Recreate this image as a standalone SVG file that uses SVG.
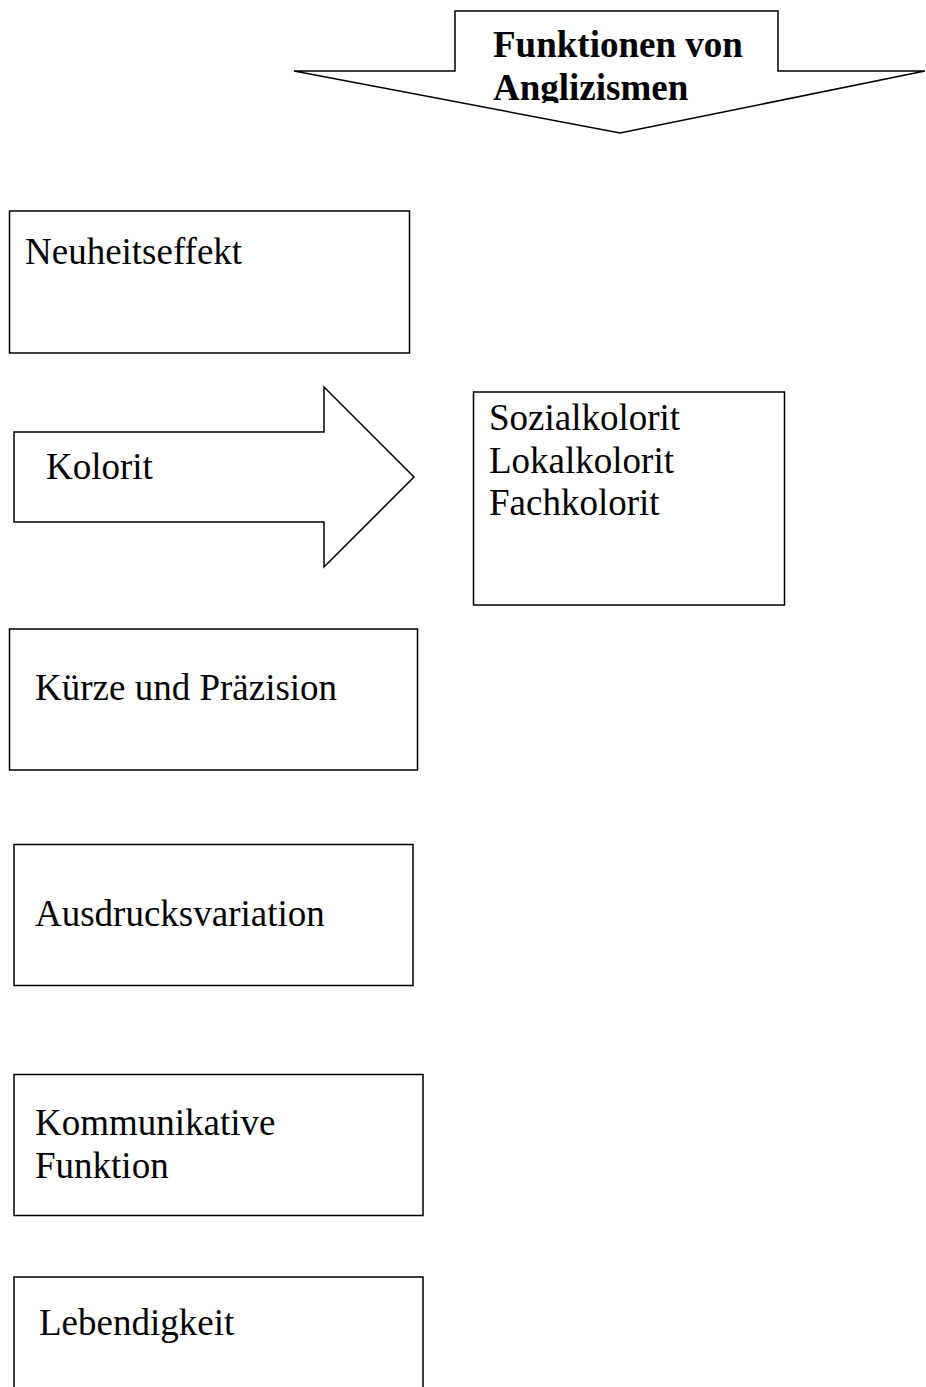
<svg xmlns="http://www.w3.org/2000/svg" width="926" height="1387" viewBox="0 0 926 1387">
<style>
.shape{fill:#fff;stroke:#000;stroke-width:1.5}
.t{font-family:"Liberation Serif","Times New Roman",serif;font-size:37px;fill:#000}
.b{font-weight:bold}
</style>
<defs>
<clipPath id="topclip"><rect x="440" y="0" width="340" height="103"/></clipPath>
</defs>
<rect width="926" height="1387" fill="#fff"/>
<g id="title">
<polygon class="shape" points="455,11 778,11 778,71 925,71 620,133 294,71 455,71"/>
<g clip-path="url(#topclip)">
<text class="t b" x="493" y="57">Funktionen von</text>
<text class="t b" x="493" y="100">Anglizismen</text>
</g>
</g>
<g id="neuheitseffekt">
<rect class="shape" x="9.5" y="211" width="400" height="142"/>
<text class="t" x="25" y="264">Neuheitseffekt</text>
</g>
<g id="kolorit">
<polygon class="shape" points="14,432 324,432 324,387 414,477 324,567 324,522 14,522"/>
<text class="t" x="46" y="479">Kolorit</text>
</g>
<g id="koloritarten">
<rect class="shape" x="473.5" y="392" width="311" height="213"/>
<text class="t" x="489" y="430">Sozialkolorit</text>
<text class="t" x="489" y="473">Lokalkolorit</text>
<text class="t" x="489" y="515">Fachkolorit</text>
</g>
<g id="kuerze">
<rect class="shape" x="9.5" y="629" width="408" height="141"/>
<text class="t" x="35" y="700">Kürze und Präzision</text>
</g>
<g id="ausdrucksvariation">
<rect class="shape" x="14" y="844.5" width="399" height="141"/>
<text class="t" x="35" y="926">Ausdrucksvariation</text>
</g>
<g id="kommunikativ">
<rect class="shape" x="14" y="1074.5" width="409" height="141"/>
<text class="t" x="35" y="1135">Kommunikative</text>
<text class="t" x="35" y="1178">Funktion</text>
</g>
<g id="lebendigkeit">
<rect class="shape" x="14" y="1277" width="409" height="130"/>
<text class="t" x="39" y="1335">Lebendigkeit</text>
</g>
<g id="connectors"></g>
</svg>
